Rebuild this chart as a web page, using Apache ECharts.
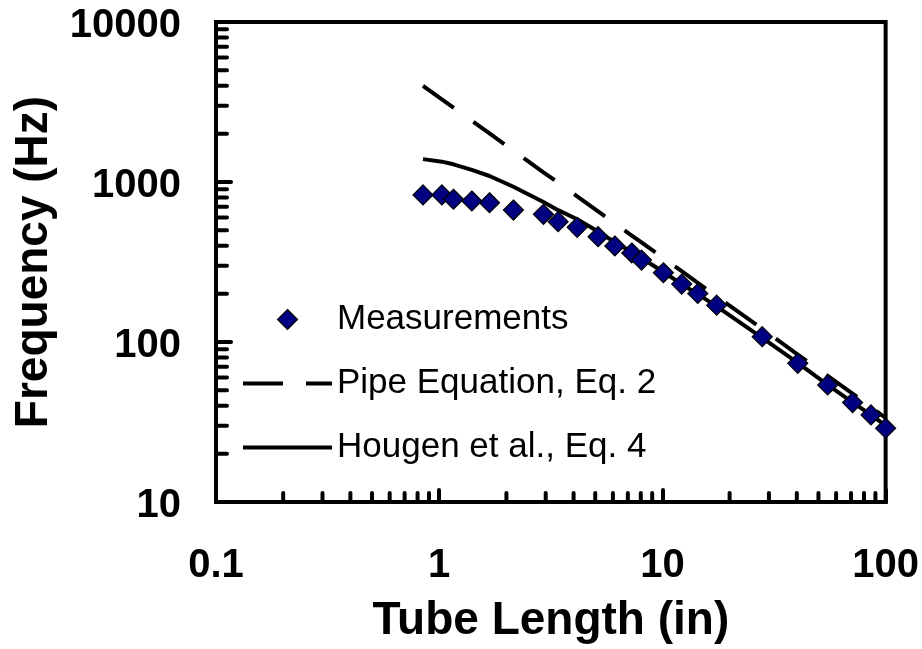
<!DOCTYPE html>
<html>
<head>
<meta charset="utf-8">
<script src="https://cdn.jsdelivr.net/npm/echarts@6/dist/echarts.min.js"></script>
<style>
html,body{margin:0;padding:0;background:#fff;}
#chart{width:922px;height:649px;}
</style>
</head>
<body>
<div id="chart"></div>
<script>
// Tube length (in)
const lengths = [0.846, 1.028, 1.158, 1.40, 1.68, 2.15, 2.93, 3.41, 4.15, 5.15, 6.12, 7.29, 8.06, 10.1, 12.2, 14.4, 17.5, 28.0, 40.4, 55.0, 71.1, 86.0, 100];
// Measured frequency (Hz)
const measured = [830, 830, 780, 761, 742, 668, 628, 565, 521, 455, 398, 360, 325, 271, 230, 201, 170, 108, 73.6, 53.9, 41.8, 35.0, 28.9];
// Pipe Equation, Eq. 2 (Hz)
const pipeEq = [3990, 3280, 2915, 2410, 2010, 1570, 1150, 990, 813, 655, 551, 463, 419, 334, 277, 234, 193, 121, 83.5, 61.4, 47.5, 39.2, 33.5];
// Hougen et al., Eq. 4 (Hz)
const hougenEq = [1390, 1340, 1290, 1190, 1090, 934, 750, 667, 585, 490, 420, 365, 335, 274, 230, 199, 167, 106, 74, 54, 42, 35, 30];

const seriesNames = ['Measurements', 'Pipe Equation, Eq. 2', 'Hougen et al., Eq. 4'];
const xMajorTicks = [0.1, 1, 10, 100];
const yMajorTicks = [10, 100, 1000, 10000];
const xMinorTicks = [0.2, 0.3, 0.4, 0.5, 0.6, 0.7, 0.8, 0.9, 2, 3, 4, 5, 6, 7, 8, 9, 20, 30, 40, 50, 60, 70, 80, 90];
const yMinorTicks = [20, 30, 40, 50, 60, 70, 80, 90, 200, 300, 400, 500, 600, 700, 800, 900, 2000, 3000, 4000, 5000, 6000, 7000, 8000, 9000];

const FONT = '"Liberation Sans", Arial, sans-serif';
const xMin = xMajorTicks[0], xMax = xMajorTicks[xMajorTicks.length - 1];
const yMin = yMajorTicks[0], yMax = yMajorTicks[yMajorTicks.length - 1];

const pairs = (xs, ys) => xs.map((x, i) => [x, ys[i]]);
const minorData = xMinorTicks.map(v => [v, yMin, 0]).concat(yMinorTicks.map(v => [xMin, v, 1]));
const fmt = v => String(+Number(v).toPrecision(4));

// legend icons (shapes only)
const ICON_DIAMOND = 'path://M10,0L20,10L10,20L0,10Z';
const ICON_DASHED = 'path://M0,0H40V4H0ZM63,0H89V4H63Z';
const ICON_SOLID = 'path://M0,0H89V4H0Z';

const chart = echarts.init(document.getElementById('chart'));
chart.setOption({
  backgroundColor: '#ffffff',
  animation: false,
  grid: { left: 216, right: 35, top: 22, bottom: 147, show: true, borderColor: '#000', borderWidth: 4, backgroundColor: 'transparent' },
  legend: {
    data: [
      { name: seriesNames[0], icon: ICON_DIAMOND, itemStyle: { color: '#000080', borderColor: '#000', borderWidth: 1.2 } },
      { name: seriesNames[1], icon: ICON_DASHED, itemStyle: { color: '#000', borderWidth: 0 } },
      { name: seriesNames[2], icon: ICON_SOLID, itemStyle: { color: '#000', borderWidth: 0 } }
    ],
    orient: 'vertical',
    left: 243,
    top: 302,
    padding: 0,
    itemWidth: 89,
    itemHeight: 20,
    itemGap: 29,
    symbolKeepAspect: true,
    selectedMode: false,
    textStyle: { fontSize: 35, color: '#000', fontFamily: FONT }
  },
  xAxis: {
    type: 'log', logBase: 10, min: xMin, max: xMax,
    name: 'Tube Length (in)', nameLocation: 'middle', nameGap: 96,
    nameTextStyle: { fontSize: 46, fontWeight: 'bold', color: '#000', fontFamily: FONT },
    axisLine: { show: true, lineStyle: { color: '#000', width: 4 } },
    axisTick: { show: true, inside: true, length: 12, lineStyle: { color: '#000', width: 4, cap: 'round' } },
    axisLabel: { margin: 44, fontSize: 40, fontWeight: 'bold', color: '#000', fontFamily: FONT, formatter: fmt },
    splitLine: { show: false }
  },
  yAxis: {
    type: 'log', logBase: 10, min: yMin, max: yMax,
    name: 'Frequency (Hz)', nameLocation: 'middle', nameGap: 159,
    nameTextStyle: { fontSize: 46, fontWeight: 'bold', color: '#000', fontFamily: FONT },
    axisLine: { show: true, lineStyle: { color: '#000', width: 4 } },
    axisTick: { show: true, inside: true, length: 15, lineStyle: { color: '#000', width: 4, cap: 'round' } },
    axisLabel: { margin: 35, fontSize: 40, fontWeight: 'bold', color: '#000', fontFamily: FONT, formatter: fmt, verticalAlign: 'top', lineHeight: 8 },
    splitLine: { show: false }
  },
  series: [
    {
      type: 'custom',
      name: 'minorTicks',
      silent: true,
      clip: false,
      z: 3,
      data: minorData,
      encode: { x: 0, y: 1 },
      renderItem: function (params, api) {
        const p = api.coord([api.value(0), api.value(1)]);
        const isY = api.value(2) === 1;
        return {
          type: 'line',
          shape: isY ? { x1: p[0], y1: p[1], x2: p[0] + 11, y2: p[1] } : { x1: p[0], y1: p[1], x2: p[0], y2: p[1] - 9 },
          style: { stroke: '#000', lineWidth: 4, lineCap: 'round' }
        };
      }
    },
    {
      type: 'line',
      name: seriesNames[2],
      data: pairs(lengths, hougenEq),
      symbol: 'none',
      color: '#000',
      lineStyle: { color: '#000', width: 4, type: 'solid' },
      z: 4
    },
    {
      type: 'line',
      name: seriesNames[1],
      data: pairs(lengths, pipeEq),
      symbol: 'none',
      color: '#000',
      lineStyle: { color: '#000', width: 4, type: [38, 24] },
      z: 4
    },
    {
      type: 'scatter',
      name: seriesNames[0],
      data: pairs(lengths, measured),
      symbol: 'diamond',
      symbolSize: 20,
      clip: false,
      color: '#000080',
      itemStyle: { color: '#000080', borderColor: '#000', borderWidth: 1.2, opacity: 1 },
      z: 6
    }
  ]
});
</script>
</body>
</html>
